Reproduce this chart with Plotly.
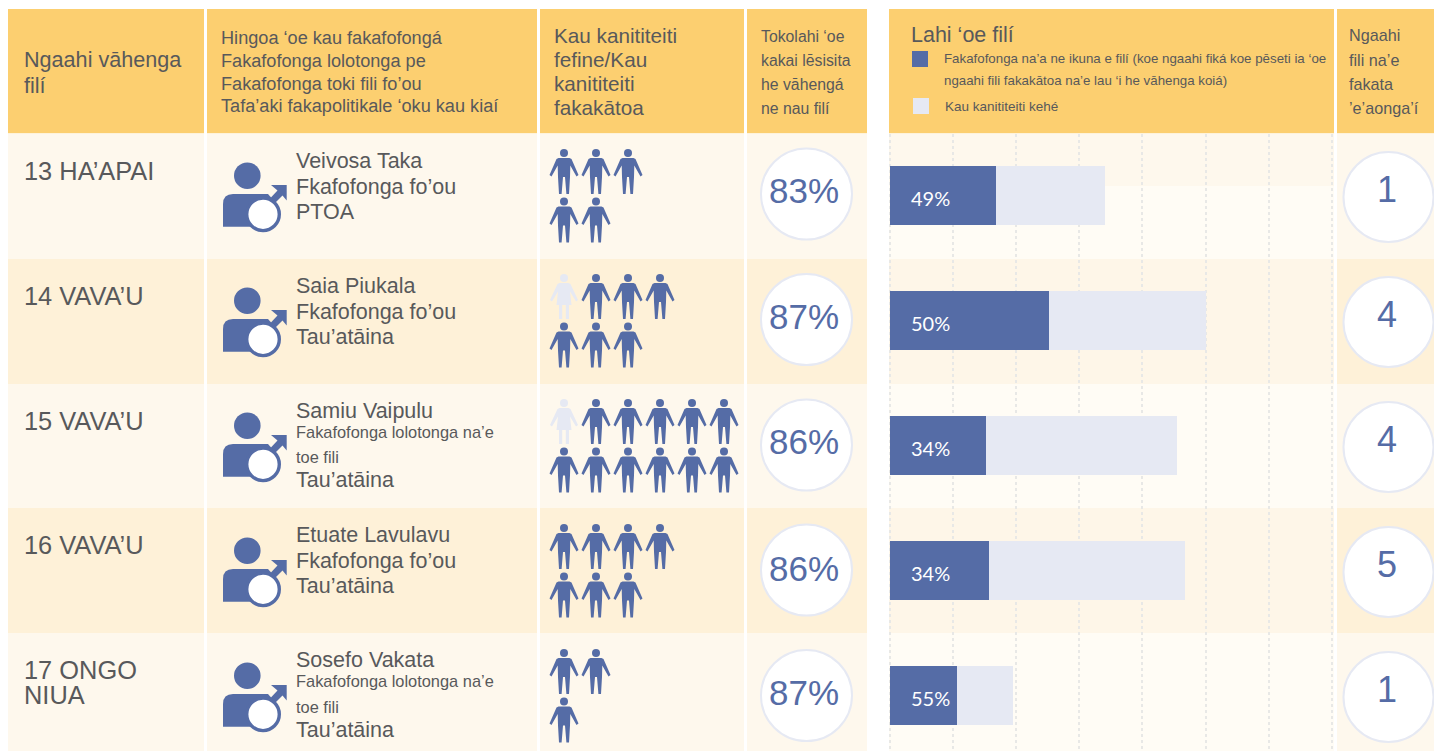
import plotly.graph_objects as go

# ---------- data ----------
districts = [["13 HA’APAI"], ["14 VAVA’U"], ["15 VAVA’U"], ["16 VAVA’U"], ["17 ONGO", "NIUA"]]
names = ["Veivosa Taka", "Saia Piukala", "Samiu Vaipulu", "Etuate Lavulavu", "Sosefo Vakata"]
roles = [["Fkafofonga fo’ou"], ["Fkafofonga fo’ou"],
         ["Fakafofonga lolotonga na’e", "toe fili"], ["Fkafofonga fo’ou"],
         ["Fakafofonga lolotonga na’e", "toe fili"]]
parties = ["PTOA", "Tau’atāina", "Tau’atāina", "Tau’atāina", "Tau’atāina"]
women_count = [0, 1, 1, 0, 0]
men_count = [5, 6, 11, 7, 3]
row_breaks = [3, 4, 6, 4, 2]
turnout = [83, 87, 86, 86, 87]
winner_votes = [840, 1260, 761, 785, 531]
other_votes = [864, 1244, 1513, 1553, 444]
winner_pct = [49, 50, 34, 34, 55]
spoilt = [1, 4, 4, 5, 1]

header_1 = ["Ngaahi vāhenga", "filí"]
header_2 = ["Hingoa ‘oe kau fakafofongá", "Fakafofonga lolotonga pe",
            "Fakafofonga toki fili fo’ou", "Tafa’aki fakapolitikale ‘oku kau kiaí"]
header_3 = ["Kau kanititeiti", "fefine/Kau", "kanititeiti", "fakakātoa"]
header_4 = ["Tokolahi ‘oe", "kakai lēsisita", "he vāhengá", "ne nau filí"]
header_5 = "Lahi ‘oe filí"
legend_1 = ["Fakafofonga na’a ne ikuna e filí (koe ngaahi fiká koe pēseti ia ‘oe",
            "ngaahi fili fakakātoa na’e lau ‘i he vāhenga koiá)"]
legend_2 = "Kau kanititeiti kehé"
header_6 = ["Ngaahi", "fili na’e", "fakata", "’e’aonga’í"]

# ---------- style ----------
BLUE = "#556ca6"
PALE = "#e6e9f3"
HEAD = "#fccf70"
TXT = "#58595b"
ROW_A = "#fef8ed"
ROW_B = "#fef1d8"
SOFT_A = "#fffcf5"
SOFT_B = "#fef6e8"
SANS = "Liberation Sans"
W, H = 1434, 751
ROW_TOP = [134, 259, 384, 508, 633, 751]
COLS = [(8, 204), (207, 537), (540, 744), (747, 867)]
CIRCLE_NUDGE = [0, 0.5, 1, 1, 1.5]
PCT_NUDGE = [0, 1, 1, 3, 2]
TEXT_NUDGE = [0, 0, -0.5, -1, -1]

shapes, ann = [], []


def rect(x0, y0, x1, y1, color, layer="below"):
    shapes.append(dict(type="rect", xref="x", yref="y", x0=x0, x1=x1, y0=y0, y1=y1,
                       fillcolor=color, line_width=0, layer=layer))


def circle(cx, cy, r, fill, line=None, lw=0):
    shapes.append(dict(type="circle", xref="x", yref="y", x0=cx - r, x1=cx + r, y0=cy - r, y1=cy + r,
                       fillcolor=fill, line=dict(color=line or fill, width=lw), layer="above"))


def path(d, fill):
    shapes.append(dict(type="path", xref="x", yref="y", path=d, fillcolor=fill,
                       line_width=0, layer="above"))


def text(x, y, s, size, color=TXT, anchor="left", family=SANS):
    ann.append(dict(x=x, y=y, xref="x", yref="y", text=s, showarrow=False, xanchor=anchor,
                    yanchor="middle", borderpad=0, borderwidth=0,
                    font=dict(family=family, size=size, color=color)))


MAN = [(-5.5, 9), (5.5, 9), (7.5, 10), (14.5, 26), (12.5, 27.5), (6.3, 16.5), (6, 28), (5, 45),
       (2.4, 45), (1, 28), (-1, 28), (-2.4, 45), (-5, 45), (-6, 28), (-6.3, 16.5), (-12.5, 27.5),
       (-14.5, 26), (-7.5, 10)]
WOMAN = [(-4.5, 9), (4.5, 9), (6.5, 10), (14, 26), (12, 27.5), (6, 17.5), (7.5, 31), (5, 31), (5, 45),
         (1.8, 45), (1.8, 31), (-1.8, 31), (-1.8, 45), (-5, 45), (-5, 31), (-7.5, 31), (-6, 17.5),
         (-12, 27.5), (-14, 26), (-6.5, 10)]


def person(cx, top, outline, color):
    d = "M" + " L".join(f"{cx + a:.1f},{top + b:.1f}" for a, b in outline) + " Z"
    path(d, color)
    circle(cx, top + 4, 4, color)


def male_icon(dy):
    circle(247.3, 175.7 + dy, 13.3, BLUE)
    t = lambda pts: " L".join(f"{x},{y + dy}" for x, y in pts)
    path(f"M223,{226.7 + dy} L223,{204 + dy} Q223,{194 + dy} 233,{194 + dy} L268,{194 + dy} "
         f"L276,{203 + dy} L262,{226.7 + dy} Z", BLUE)
    path("M" + t([(271, 185), (286.7, 185), (286.7, 200.5), (282.5, 195.5), (274.5, 203.5), (270, 198.5),
                  (277.5, 190.5)]) + " Z", BLUE)
    circle(263, 214.3 + dy, 16.3, "#ffffff", BLUE, 3.4)


# ---------- backgrounds ----------
for x0, x1 in COLS + [(889, 1334), (1337, 1434)]:
    rect(x0, 9, x1, 133.3, HEAD)
for i in range(5):
    y0, y1 = ROW_TOP[i], ROW_TOP[i + 1]
    base = ROW_A if i % 2 == 0 else ROW_B
    soft = SOFT_A if i % 2 == 0 else SOFT_B
    for x0, x1 in COLS + [(1337, 1434)]:
        rect(x0, y0, x1, y1, base)
    rect(889, y0, 1334, y1, soft)
rect(889, 134, 1334, 186, ROW_A)

# ---------- header text ----------
for y, s in zip([59, 85], header_1):
    text(24, y, s, 21.6)
for y, s in zip([38, 61, 84, 106], header_2):
    text(220.5, y, s, 18.15)
for y, s in zip([35, 59, 83, 107], header_3):
    text(554, y, s, 20.7)
for y, s in zip([36, 60, 84, 108], header_4):
    text(761, y, s, 15.8)
text(911, 35, header_5, 21.5)
for y, s in zip([58, 80], legend_1):
    text(944, y, s, 13.3)
text(945, 106, legend_2, 13.5)
for y, s in zip([35, 60, 84, 108], header_6):
    text(1349, y, s, 16.2)
rect(912, 51, 928, 67, BLUE, "above")
rect(913, 98, 929, 114, PALE, "above")

# ---------- rows ----------
for i in range(5):
    dy = 125 * i
    tn = TEXT_NUDGE[i]
    for k, s in enumerate(districts[i]):
        text(24, 171 + dy + tn + k * 25, s, 25.4)

    male_icon(dy)
    text(295.5, 161 + dy + tn, names[i], 21.5)
    if len(roles[i]) == 1:
        text(295.5, 187 + dy + tn, roles[i][0], 21.5)
        text(295.5, 212 + dy + tn, parties[i], 21.5)
    else:
        text(295.5, 182 + dy + tn, roles[i][0], 16.4)
        text(295.5, 207.5 + dy + tn, roles[i][1], 16.4)
        text(295.5, 230 + dy, parties[i], 21.5)

    kinds = [WOMAN] * women_count[i] + [MAN] * men_count[i]
    for n, kind in enumerate(kinds):
        col, line = n % row_breaks[i], n // row_breaks[i]
        person(564 + 32 * col, 149 + dy + 48.5 * line, kind, PALE if kind is WOMAN else BLUE)

    cn = CIRCLE_NUDGE[i]
    circle(806.5, 194 + dy + cn, 45.5, "#ffffff", PALE, 2)
    text(804, 190 + dy + PCT_NUDGE[i], f"{turnout[i]}%", 35, BLUE, "center")
    circle(1388.5, 197 + dy, 45, "#ffffff", PALE, 2)
    text(1387, 189 + dy, str(spoilt[i]), 36, BLUE, "center")
    text(911, 198 + dy, f"{winner_pct[i]}%", 20, "#ffffff", "left", "Lato")

# ---------- figure ----------
rows = list(range(5))
fig = go.Figure()
# invisible trace holding the pixel-based layout axes
fig.add_trace(go.Scatter(x=[0, W], y=[0, H], mode="markers", marker=dict(opacity=0), hoverinfo="skip",
                         showlegend=False, xaxis="x", yaxis="y"))
fig.add_trace(go.Bar(y=rows, x=winner_votes, orientation="h", marker=dict(color=BLUE, line_width=0),
                     width=0.472, xaxis="x2", yaxis="y2", showlegend=False))
fig.add_trace(go.Bar(y=rows, x=other_votes, orientation="h", marker=dict(color=PALE, line_width=0),
                     width=0.472, xaxis="x2", yaxis="y2", showlegend=False))

fig.update_layout(
    width=W, height=H, margin=dict(l=0, r=0, t=0, b=0), paper_bgcolor="#ffffff", plot_bgcolor="rgba(0,0,0,0)",
    barmode="stack", showlegend=False, shapes=shapes, annotations=ann,
    xaxis=dict(domain=[0, 1], range=[0, W], visible=False, fixedrange=True),
    yaxis=dict(domain=[0, 1], range=[H, 0], visible=False, fixedrange=True),
    xaxis2=dict(domain=[889 / W, 1334 / W], range=[-8, 3518], anchor="y2", dtick=500, tick0=0,
                showgrid=True, gridcolor="#e8e8e6", griddash="dot", gridwidth=2,
                showticklabels=False, ticks="", zeroline=False, showline=False, fixedrange=True),
    yaxis2=dict(domain=[0, (H - 134) / H], range=[4.444, -0.492], anchor="x2", showgrid=False,
                showticklabels=False, ticks="", zeroline=False, showline=False, fixedrange=True),
)
fig.write_html("out.html", config=dict(displayModeBar=False),
               post_script="document.body.style.margin='0';document.body.style.overflow='hidden';")
